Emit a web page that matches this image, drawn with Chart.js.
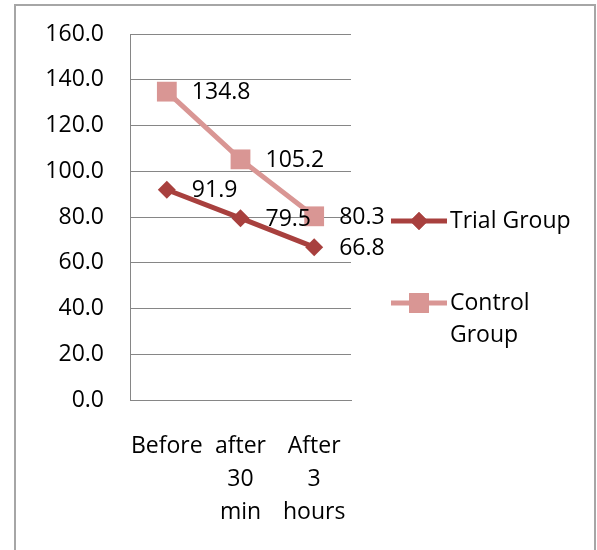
<!DOCTYPE html>
<html>
<head>
<meta charset="utf-8">
<script src="https://cdn.jsdelivr.net/npm/chart.js@4/dist/chart.umd.min.js"></script>
<style>
  html, body { margin: 0; padding: 0; background: #fff; }
  #wrap { width: 597px; height: 550px; position: relative; }
</style>
</head>
<body>
<div id="wrap"><canvas id="chart"></canvas></div>
<script>
const categories = [["Before"], ["after", "30", "min"], ["After", "3", "hours"]];
const trialGroup = [91.9, 79.5, 66.8];
const controlGroup = [134.8, 105.2, 80.3];
const seriesNames = [["Trial Group"], ["Control", "Group"]];

const FONT = "'Open Sans', 'Liberation Sans', sans-serif";
const trialColor = "#A8403E";
const controlColor = "#D99694";
const gridColor = "#868686";

// frame around the chart like the office export
const framePlugin = {
    id: 'frame',
    beforeDraw(chart) {
        const c = chart.ctx;
        c.save();
        c.strokeStyle = "#A6A6A6";
        c.lineWidth = 2;
        c.strokeRect(15, 5, 580, 560);
        c.restore();
    }
};

// value labels to the right of each point
const valueLabels = {
    id: 'valueLabels',
    afterDatasetsDraw(chart) {
        const c = chart.ctx;
        c.save();
        c.font = "23px " + FONT;
        c.fillStyle = "#000";
        c.textAlign = "left";
        c.textBaseline = "middle";
        chart.data.datasets.forEach((ds, i) => {
            chart.getDatasetMeta(i).data.forEach((pt, j) => {
                c.fillText(ds.data[j].toFixed(1), pt.x + 25, pt.y + 1);
            });
        });
        c.restore();
    }
};

// legend on the right, with wrapped names
const sideLegend = {
    id: 'sideLegend',
    afterDraw(chart) {
        const c = chart.ctx;
        const rows = [221, 303];
        c.save();
        chart.data.datasets.forEach((ds, i) => {
            const y = rows[i];
            c.strokeStyle = ds.borderColor;
            c.lineWidth = 5;
            c.beginPath();
            c.moveTo(391, y);
            c.lineTo(447, y);
            c.stroke();
            c.fillStyle = ds.backgroundColor;
            Chart.helpers.drawPoint(c, {
                pointStyle: ds.pointStyle,
                radius: ds.pointRadius,
                borderWidth: 0
            }, 419, y);
            c.fill();
            c.font = "23px " + FONT;
            c.fillStyle = "#000";
            c.textAlign = "left";
            c.textBaseline = "middle";
            seriesNames[i].forEach((line, k) => {
                c.fillText(line, 450, y + k * 32);
            });
        });
        c.restore();
    }
};

new Chart(document.getElementById('chart'), {
    type: 'line',
    data: {
        labels: categories,
        datasets: [{
            label: 'Trial Group',
            data: trialGroup,
            borderColor: trialColor,
            backgroundColor: trialColor,
            borderWidth: 5,
            pointStyle: 'rectRot',
            pointRadius: 9,
            pointHoverRadius: 9,
            pointBorderWidth: 0,
            tension: 0
        }, {
            label: 'Control Group',
            data: controlGroup,
            borderColor: controlColor,
            backgroundColor: controlColor,
            borderWidth: 5,
            pointStyle: 'rect',
            pointRadius: 14,
            pointHoverRadius: 14,
            pointBorderWidth: 0,
            tension: 0
        }]
    },
    options: {
        responsive: true,
        maintainAspectRatio: false,
        animation: false,
        layout: { padding: { left: 0, top: 34, right: 246, bottom: 0 } },
        plugins: {
            legend: { display: false },
            tooltip: { enabled: false }
        },
        scales: {
            x: {
                offset: true,
                afterFit(scale) { scale.height = 150; },
                grid: { display: false, drawTicks: false },
                border: { display: true, color: gridColor, width: 1 },
                ticks: {
                    color: "#000",
                    padding: 30,
                    maxRotation: 0,
                    autoSkip: false,
                    font: { family: FONT, size: 23, lineHeight: 1.43 }
                }
            },
            y: {
                min: 0,
                max: 160,
                afterFit(scale) {
                    scale.width = 130;
                    scale.paddingTop = 0;
                    scale.paddingBottom = 0;
                },
                grid: { color: gridColor, lineWidth: 1, drawTicks: false },
                border: { display: true, color: gridColor, width: 1 },
                ticks: {
                    stepSize: 20,
                    color: "#000",
                    padding: 26,
                    font: { family: FONT, size: 23 },
                    callback: v => v.toFixed(1)
                }
            }
        }
    },
    plugins: [framePlugin, valueLabels, sideLegend]
});
</script>
</body>
</html>
